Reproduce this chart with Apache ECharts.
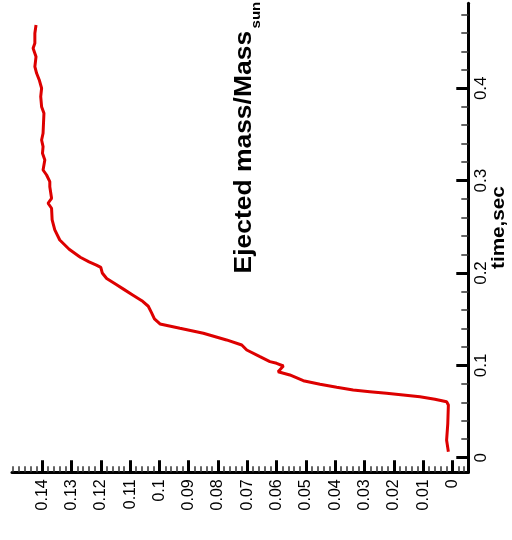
<!DOCTYPE html>
<html>
<head>
<meta charset="utf-8">
<script src="https://cdn.jsdelivr.net/npm/echarts@6/dist/echarts.min.js"></script>
<style>
  html, body { margin: 0; padding: 0; background: #ffffff; }
  #chart { width: 512px; height: 540px; }
</style>
</head>
<body>
<div id="chart"></div>
<script>
// Ejected mass (in solar masses) versus time (s); the plot is drawn turned a quarter turn,
// time running up the right-hand axis and mass growing to the left along the bottom.
const timeSec = [
  0.0065, 0.019, 0.037, 0.057, 0.0606, 0.0632, 0.0660, 0.0679, 0.0697, 0.0715,
  0.0733, 0.0762, 0.0795, 0.0834, 0.0896, 0.0931, 0.0993, 0.1022, 0.1040, 0.1094,
  0.1166, 0.1220, 0.1275, 0.1347, 0.1401, 0.1448, 0.1502, 0.1570, 0.1640, 0.1700,
  0.1760, 0.1820, 0.1880, 0.1940, 0.2000, 0.2060, 0.2085, 0.2120, 0.2170, 0.2257,
  0.2357, 0.2466, 0.2574, 0.2701, 0.2755, 0.2809, 0.2934, 0.2989, 0.3061, 0.3115,
  0.3224, 0.3296, 0.3368, 0.3440, 0.3513, 0.3729, 0.3801, 0.3909, 0.4000, 0.4090,
  0.4162, 0.4234, 0.4342, 0.4433, 0.4487, 0.4595, 0.4613, 0.4685
];
const ejectedMass = [
  0.0014, 0.0020, 0.0016, 0.0014, 0.0020, 0.0060, 0.0111, 0.0168, 0.0225, 0.0282,
  0.0339, 0.0395, 0.0452, 0.0509, 0.0555, 0.0595, 0.0577, 0.0600, 0.0623, 0.0657,
  0.0702, 0.0719, 0.0771, 0.0850, 0.0930, 0.0998, 0.1017, 0.1027, 0.1038, 0.1060,
  0.1090, 0.1120, 0.1150, 0.1180, 0.1195, 0.1200, 0.1215, 0.1240, 0.1270, 0.1308,
  0.1340, 0.1357, 0.1366, 0.1368, 0.1380, 0.1368, 0.1374, 0.1374, 0.1385, 0.1397,
  0.1391, 0.1399, 0.1397, 0.1402, 0.1397, 0.1394, 0.1402, 0.1405, 0.1402, 0.1410,
  0.1419, 0.1425, 0.1421, 0.1431, 0.1425, 0.1425, 0.1428, 0.1421
];

// Axis ticks and their labels
const massTicks = [0, 0.01, 0.02, 0.03, 0.04, 0.05, 0.06, 0.07, 0.08, 0.09, 0.1, 0.11, 0.12, 0.13, 0.14];
const massTickLabels = ['0', '0.01', '0.02', '0.03', '0.04', '0.05', '0.06', '0.07', '0.08', '0.09', '0.1', '0.11', '0.12', '0.13', '0.14'];
const timeTicks = [0, 0.1, 0.2, 0.3, 0.4];
const timeTickLabels = ['0', '0.1', '0.2', '0.3', '0.4'];
const massRange = [-0.0054, 0.1503];
const timeRange = [-0.0158, 0.4920];

// Minor ticks: every 0.002 in mass, every 0.02 in time
function minorBetween(lo, hi, step, majors) {
  const out = [];
  for (let k = Math.ceil(lo / step); k * step <= hi + 1e-9; k++) {
    const v = +(k * step).toFixed(6);
    if (!majors.some(m => Math.abs(m - v) < 1e-9)) out.push(v);
  }
  return out;
}
const massMinorTicks = minorBetween(massRange[0], massRange[1], 0.002, massTicks);
const timeMinorTicks = minorBetween(timeRange[0], timeRange[1], 0.02, timeTicks);

function labelFor(ticks, labels) {
  return function (v) {
    const i = ticks.findIndex(t => Math.abs(t - v) < 1e-9);
    return i >= 0 ? labels[i] : '';
  };
}

const curve = timeSec.map((t, i) => [ejectedMass[i], t]);
const FONT = '"Liberation Sans", Arial, Helvetica, sans-serif';

const massAxisBase = {
  type: 'value', position: 'bottom', inverse: true,
  min: massRange[0], max: massRange[1],
  splitLine: { show: false }
};
const timeAxisBase = {
  type: 'value', position: 'right',
  min: timeRange[0], max: timeRange[1],
  splitLine: { show: false }
};

const chart = echarts.init(document.getElementById('chart'), null, { renderer: 'canvas' });
chart.setOption({
  animation: false,
  backgroundColor: '#ffffff',
  grid: { left: 12, right: 43.7, top: 3.3, bottom: 67.7, outerBoundsMode: 'none', containLabel: false },
  xAxis: [
    Object.assign({}, massAxisBase, {
      axisLine: { show: true, onZero: false, lineStyle: { color: '#000', width: 3 } },
      axisTick: { show: true, inside: true, length: 12, customValues: massTicks, lineStyle: { color: '#000', width: 3 } },
      axisLabel: {
        show: true, rotate: 90, margin: 7, customValues: massTicks,
        formatter: labelFor(massTicks, massTickLabels),
        color: '#000', fontFamily: FONT, fontSize: 16
      }
    }),
    Object.assign({}, massAxisBase, {
      axisLine: { show: false, onZero: false },
      axisTick: { show: true, inside: true, length: 6, customValues: massMinorTicks, lineStyle: { color: '#333', width: 1.5 } },
      axisLabel: { show: false }
    })
  ],
  yAxis: [
    Object.assign({}, timeAxisBase, {
      axisLine: { show: true, onZero: false, lineStyle: { color: '#000', width: 3 } },
      axisTick: { show: true, inside: true, length: 12, customValues: timeTicks, lineStyle: { color: '#000', width: 3 } },
      axisLabel: {
        show: true, rotate: 90, margin: 5, customValues: timeTicks,
        formatter: labelFor(timeTicks, timeTickLabels),
        color: '#000', fontFamily: FONT, fontSize: 17
      }
    }),
    Object.assign({}, timeAxisBase, {
      axisLine: { show: false, onZero: false },
      axisTick: { show: true, inside: true, length: 7, customValues: timeMinorTicks, lineStyle: { color: '#333', width: 1.5 } },
      axisLabel: { show: false }
    })
  ],
  series: [{
    type: 'line',
    xAxisIndex: 0,
    yAxisIndex: 0,
    data: curve,
    showSymbol: false,
    smooth: false,
    lineStyle: { color: '#dd0000', width: 3 },
    itemStyle: { color: '#dd0000' },
    z: 3
  }],
  graphic: [
    {
      type: 'text', x: 244.5, y: 273.5, rotation: Math.PI / 2, scaleX: 1.15,
      style: { text: 'Ejected mass/Mass', font: 'bold 23px ' + FONT, fill: '#000', textAlign: 'left', textVerticalAlign: 'middle' }
    },
    {
      type: 'text', x: 256.5, y: 28.5, rotation: Math.PI / 2, scaleX: 1.16,
      style: { text: 'sun', font: 'bold 13px ' + FONT, fill: '#000', textAlign: 'left', textVerticalAlign: 'middle' }
    },
    {
      type: 'text', x: 499.5, y: 269, rotation: Math.PI / 2, scaleX: 1.15,
      style: { text: 'time,sec', font: 'bold 18px ' + FONT, fill: '#000', textAlign: 'left', textVerticalAlign: 'middle' }
    }
  ]
});
</script>
</body>
</html>
